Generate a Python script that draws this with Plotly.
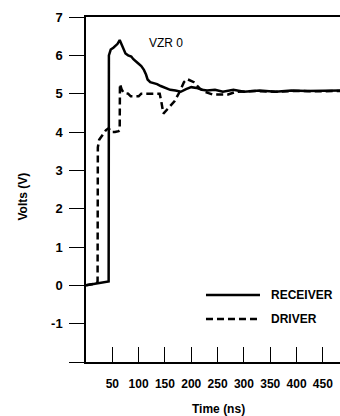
import plotly.graph_objects as go

# Receiver (solid)
t_rx = [0, 20, 43, 43.5, 47, 52, 56, 60, 64, 67, 71, 75, 80, 86, 90, 95, 100, 105,
        110, 114, 117, 122, 128, 135, 142, 150, 160, 170, 180, 190, 200, 210, 220,
        230, 245, 260, 280, 300, 330, 360, 390, 420, 450, 483]
v_rx = [0.0, 0.05, 0.1, 6.0, 6.15, 6.2, 6.25, 6.3, 6.4, 6.3, 6.15, 6.05, 6.0, 5.97,
        5.9, 5.85, 5.78, 5.72, 5.62, 5.5, 5.37, 5.3, 5.28, 5.25, 5.2, 5.15, 5.1, 5.08,
        5.05, 5.12, 5.17, 5.15, 5.1, 5.08, 5.1, 5.05, 5.1, 5.05, 5.08, 5.05, 5.08,
        5.07, 5.08, 5.08]

# Driver (dashed)
t_dr = [0, 20, 22, 22.5, 25, 30, 38, 43, 48, 55, 62, 64, 64.5, 68, 72, 80, 85, 100,
        105, 120, 140, 143, 147, 155, 168, 178, 186, 192, 205, 215, 225, 240, 270,
        285, 320, 360, 400, 440, 483]
v_dr = [0.0, 0.05, 0.1, 3.6, 3.8, 3.9, 4.05, 4.1, 4.0, 4.0, 4.02, 4.05, 5.25, 5.1,
        5.02, 5.0, 4.93, 4.93, 5.0, 5.0, 5.0, 4.8, 4.48, 4.6, 4.8, 5.05, 5.3, 5.38,
        5.3, 5.15, 5.05, 4.98, 4.98, 5.05, 5.07, 5.05, 5.07, 5.06, 5.07]

x_ticks = [50, 100, 150, 200, 250, 300, 350, 400, 450]
y_ticks = [-2, -1, 0, 1, 2, 3, 4, 5, 6, 7]
y_tick_text = ["", "-1", "0", "1", "2", "3", "4", "5", "6", "7"]

FONT = "Liberation Sans, Arial, sans-serif"
LINE_W = 2.5

fig = go.Figure()
fig.add_trace(go.Scatter(x=t_rx, y=v_rx, mode="lines", name="RECEIVER",
                         line=dict(color="black", width=LINE_W)))
fig.add_trace(go.Scatter(x=t_dr, y=v_dr, mode="lines", name="DRIVER",
                         line=dict(color="black", width=LINE_W, dash="7px,4px")))

fig.update_layout(
    width=340, height=416,
    margin=dict(l=86, r=0, t=17, b=54),
    paper_bgcolor="white", plot_bgcolor="white",
    showlegend=False,
    font=dict(family=FONT, size=12, color="black"),
)
fig.update_xaxes(
    range=[0, 482.5], tickvals=x_ticks, ticks="inside", ticklen=15, tickwidth=1.3,
    tickcolor="black", showline=True, linecolor="black", linewidth=1.5, mirror=True,
    showgrid=False, zeroline=False, ticklabelstandoff=10,
    tickfont=dict(family=FONT, size=12, weight="bold"),
)
fig.update_yaxes(
    range=[-2, 7], tickvals=y_ticks, ticktext=y_tick_text, ticks="outside", ticklen=15,
    tickwidth=1.3, tickcolor="black", showline=True, linecolor="black", linewidth=1.5,
    mirror=False, showgrid=False, zeroline=False, ticklabelstandoff=4,
    tickfont=dict(family=FONT, size=13, weight="bold"),
)

# axis titles
fig.add_annotation(text="Volts (V)", xref="paper", yref="paper", x=0, y=0.5,
                   xshift=-64, yshift=-7, textangle=-90, showarrow=False,
                   xanchor="center", yanchor="middle",
                   font=dict(family=FONT, size=12, weight="bold"))
fig.add_annotation(text="Time (ns)", xref="paper", yref="paper", x=0.52, y=0,
                   yshift=-47, showarrow=False, xanchor="center", yanchor="middle",
                   font=dict(family=FONT, size=12, weight="bold"))
fig.add_annotation(text="VZR 0", xref="paper", yref="paper", x=0.240, y=0.9255,
                   showarrow=False, xanchor="left", yanchor="middle",
                   font=dict(family=FONT, size=12))

# legend (drawn manually)
leg = [("RECEIVER", "solid", 0.1944), ("DRIVER", "7px,4px", 0.1247)]
for name, dash, yy in leg:
    fig.add_shape(type="line", xref="paper", yref="paper", x0=0.4724, x1=0.685,
                  y0=yy, y1=yy, line=dict(color="black", width=LINE_W, dash=dash))
    fig.add_annotation(text=name, xref="paper", yref="paper", x=0.7205, y=yy,
                       showarrow=False, xanchor="left", yanchor="middle",
                       font=dict(family=FONT, size=12, weight="bold"))

fig.write_html("out.html")
